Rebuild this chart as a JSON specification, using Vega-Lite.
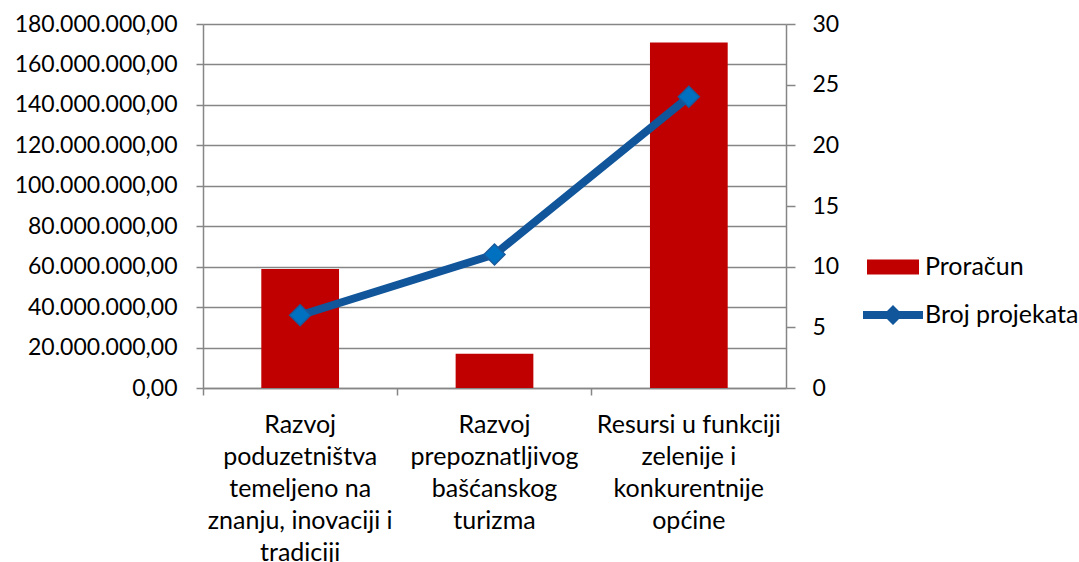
{
  "$schema": "https://vega.github.io/schema/vega-lite/v6.json",
  "autosize": {"type": "none"},
  "padding": {"left": 203, "top": 24, "right": 293, "bottom": 174},
  "width": 583,
  "height": 364,
  "background": "white",
  "config": {
    "view": {"stroke": null},
    "font": "Lato",
    "locale": {"number": {"decimal": ",", "thousands": ".", "grouping": [3], "currency": ["", ""]}},
    "axis": {"labelFont": "Lato", "labelFontSize": 23, "labelColor": "black", "domainColor": "#868686", "tickColor": "#868686", "gridColor": "#868686", "domainWidth": 1.5, "tickWidth": 1.5, "gridWidth": 1.5, "title": null},
    "legend": {"labelFont": "Lato", "labelFontSize": 25, "labelColor": "black", "padding": 0, "title": null}
  },
  "data": {"values": [
    {"kategorija": "Razvoj poduzetništva temeljeno na znanju, inovaciji i tradiciji", "proracun": 58900000, "broj": 6},
    {"kategorija": "Razvoj prepoznatljivog bašćanskog turizma", "proracun": 16900000, "broj": 11},
    {"kategorija": "Resursi u funkciji zelenije i konkurentnije općine", "proracun": 170900000, "broj": 24}
  ]},
  "layer": [
    {
      "mark": {"type": "bar", "color": "#C00000"},
      "encoding": {
        "x": {"field": "kategorija", "type": "nominal", "sort": null,
          "scale": {"paddingInner": 0.6, "paddingOuter": 0.3},
          "axis": {"orient": "bottom", "labels": false, "ticks": true, "tickSize": 7, "bandPosition": -0.75, "domain": true, "grid": false}},
        "y": {"field": "proracun", "type": "quantitative",
          "scale": {"domain": [0, 180000000], "nice": false},
          "axis": {"orient": "left", "format": ",.2f", "values": [0, 20000000, 40000000, 60000000, 80000000, 100000000, 120000000, 140000000, 160000000, 180000000], "grid": true, "tickSize": 7, "labelPadding": 19}},
        "fill": {"datum": "Proračun", "type": "nominal",
          "scale": {"range": ["#C00000"]},
          "legend": {"orient": "none", "legendX": 664, "legendY": 217, "symbolType": "M-1,-0.29L1,-0.29L1,0.29L-1,0.29Z", "symbolSize": 2704, "symbolStrokeWidth": 0, "labelOffset": 6}}
      }
    },
    {
      "encoding": {
        "x": {"field": "kategorija", "type": "nominal", "sort": null,
          "axis": {"orient": "bottom", "domain": false, "ticks": false, "grid": false, "labelAngle": 0, "labelFontSize": 25, "labelPadding": 24, "labelLineHeight": 32, "labelLimit": 400,
            "labelExpr": "datum.value == 'Razvoj poduzetništva temeljeno na znanju, inovaciji i tradiciji' ? ['Razvoj', 'poduzetništva', 'temeljeno na', 'znanju, inovaciji i', 'tradiciji'] : datum.value == 'Razvoj prepoznatljivog bašćanskog turizma' ? ['Razvoj', 'prepoznatljivog', 'bašćanskog', 'turizma'] : ['Resursi u funkciji', 'zelenije i', 'konkurentnije', 'općine']"}},
        "y": {"field": "broj", "type": "quantitative",
          "scale": {"domain": [0, 30], "nice": false},
          "axis": {"orient": "right", "values": [0, 5, 10, 15, 20, 25, 30], "grid": false, "tickSize": 9, "labelPadding": 17}}
      },
      "layer": [
        {
          "mark": {"type": "line", "strokeWidth": 8, "color": "#11559A"},
          "encoding": {
            "stroke": {"datum": "Broj projekata", "type": "nominal",
              "scale": {"range": ["#11559A"]},
              "legend": {"orient": "none", "legendX": 660, "legendY": 261, "symbolType": "M-1,-0.13L-0.2,-0.13L0,-0.33L0.2,-0.13L1,-0.13L1,0.13L0.2,0.13L0,0.33L-0.2,0.13L-1,0.13Z", "symbolSize": 3600, "symbolStrokeWidth": 0, "symbolFillColor": "#11559A", "labelOffset": 2,
                "encode": {"symbols": {"update": {"fill": {"value": "#11559A"}, "stroke": {"value": "#11559A"}, "strokeWidth": {"value": 0}}}}}
            }
          }
        },
        {
          "mark": {"type": "point", "shape": "diamond", "size": 440, "filled": true, "color": "#0070C0", "stroke": "#1A5A9C", "strokeWidth": 1.5, "opacity": 1}
        }
      ]
    }
  ],
  "resolve": {"scale": {"y": "independent"}, "axis": {"x": "independent"}}
}
